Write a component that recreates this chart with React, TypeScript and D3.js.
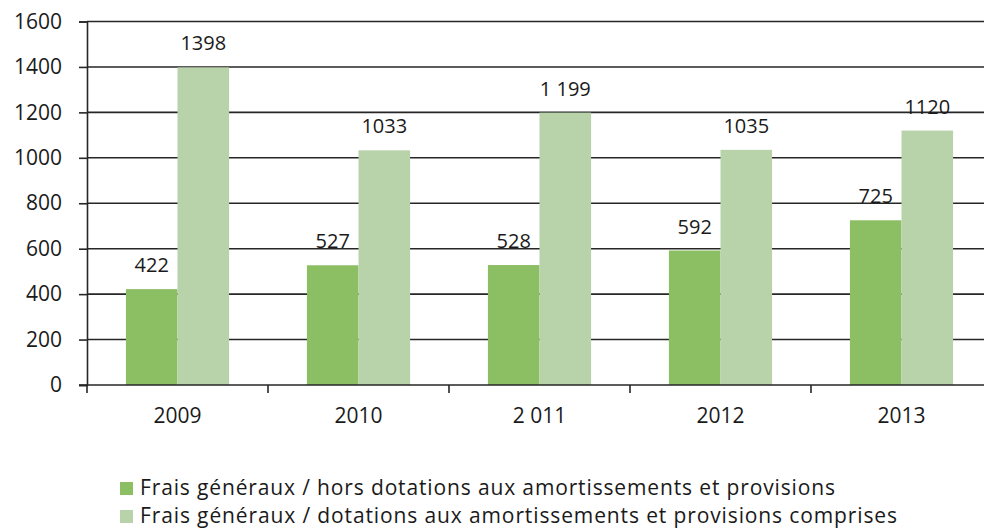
import React, { useEffect, useRef } from "react";
import * as d3 from "d3";

const categories = ["2009", "2010", "2 011", "2012", "2013"];
const horsDotations = [422, 527, 528, 592, 725];
const dotationsComprises = [1398, 1033, 1199, 1035, 1120];
const horsLabels = ["422", "527", "528", "592", "725"];
const comprisesLabels = ["1398", "1033", "1 199", "1035", "1120"];
const yTicks = [0, 200, 400, 600, 800, 1000, 1200, 1400, 1600];
const seriesNames = [
  "Frais généraux / hors dotations aux amortissements et provisions",
  "Frais généraux / dotations aux amortissements et provisions comprises",
];
const colors = ["#8CBE63", "#B8D3AA"];

const App = () => {
  const svgRef = useRef<SVGSVGElement>(null);

  const W = 984;
  const H = 530;
  const margin = { top: 21.5, right: -8, bottom: 145, left: 87 };
  const width = W - margin.left - margin.right;
  const height = H - margin.top - margin.bottom;
  const font = "'Open Sans', sans-serif";
  const legendLen = [695, 757];

  useEffect(() => {
    const root = d3.select(svgRef.current);
    root.selectAll("*").remove();
    const svg = root
      .append("g")
      .attr("transform", `translate(${margin.left},${margin.top})`);

    const x = d3.scaleBand().domain(categories).range([0, width]);
    const y = d3.scaleLinear().domain([0, 1600]).range([height, 0]);
    const barW = x.bandwidth() * 0.285;

    // grille
    svg
      .selectAll(".grid")
      .data(yTicks.filter((t) => t > 0))
      .enter()
      .append("line")
      .attr("x1", 0)
      .attr("x2", width)
      .attr("y1", (d) => y(d))
      .attr("y2", (d) => y(d))
      .attr("stroke", "#262626")
      .attr("stroke-width", 1.6);

    const series = [horsDotations, dotationsComprises];
    const labels = [horsLabels, comprisesLabels];

    series.forEach((vals, s) => {
      const g = svg.append("g");
      g.selectAll("rect")
        .data(vals)
        .enter()
        .append("rect")
        .attr("x", (_, i) => x(categories[i])! + x.bandwidth() / 2 - barW + s * barW)
        .attr("y", (d) => y(d))
        .attr("width", barW)
        .attr("height", (d) => height - y(d))
        .attr("fill", colors[s]);
      g.selectAll("text")
        .data(vals)
        .enter()
        .append("text")
        .attr("x", (_, i) => x(categories[i])! + x.bandwidth() / 2 - barW / 2 + s * barW)
        .attr("y", (d) => y(d) - 17)
        .attr("text-anchor", "middle")
        .attr("font-family", font)
        .attr("font-size", 20)
        .attr("fill", "#1a1a1a")
        .text((_, i) => labels[s][i]);
    });

    // axe Y
    const yAxis = svg
      .append("g")
      .call(
        d3
          .axisLeft(y)
          .tickValues(yTicks)
          .tickSize(8)
          .tickPadding(17)
          .tickFormat((d) => String(d))
      );
    yAxis.select(".domain").attr("stroke", "#262626").attr("stroke-width", 1.6);
    yAxis.selectAll(".tick line").attr("stroke", "#262626").attr("stroke-width", 1.6);
    yAxis
      .selectAll("text")
      .attr("font-family", font)
      .attr("font-size", 21)
      .attr("fill", "#1a1a1a");

    // axe X
    const xAxis = svg.append("g").attr("transform", `translate(0,${height})`);
    xAxis
      .append("line")
      .attr("x1", -8)
      .attr("x2", width)
      .attr("stroke", "#262626")
      .attr("stroke-width", 1.6);
    xAxis
      .selectAll(".xtick")
      .data(d3.range(categories.length + 1))
      .enter()
      .append("line")
      .attr("x1", (i) => i * x.step())
      .attr("x2", (i) => i * x.step())
      .attr("y1", 0)
      .attr("y2", 8)
      .attr("stroke", "#262626")
      .attr("stroke-width", 1.6);
    xAxis
      .selectAll("text")
      .data(categories)
      .enter()
      .append("text")
      .attr("x", (d) => x(d)! + x.bandwidth() / 2)
      .attr("y", 38)
      .attr("text-anchor", "middle")
      .attr("font-family", font)
      .attr("font-size", 21)
      .attr("fill", "#1a1a1a")
      .text((d) => d);

    // légende
    const legend = root.append("g");
    seriesNames.forEach((name, i) => {
      legend
        .append("rect")
        .attr("x", 120)
        .attr("y", 482 + i * 28)
        .attr("width", 13)
        .attr("height", 13)
        .attr("fill", colors[i]);
      legend
        .append("text")
        .attr("x", 140)
        .attr("y", 495 + i * 28)
        .attr("font-family", font)
        .attr("font-size", 21)
        .attr("textLength", legendLen[i])
        .attr("fill", "#1a1a1a")
        .text(name);
    });
  }, []);

  return (
    <svg
      ref={svgRef}
      width={W}
      height={H}
      style={{ position: "absolute", left: 0, top: 0, background: "#fff" }}
    ></svg>
  );
};

export default App;
